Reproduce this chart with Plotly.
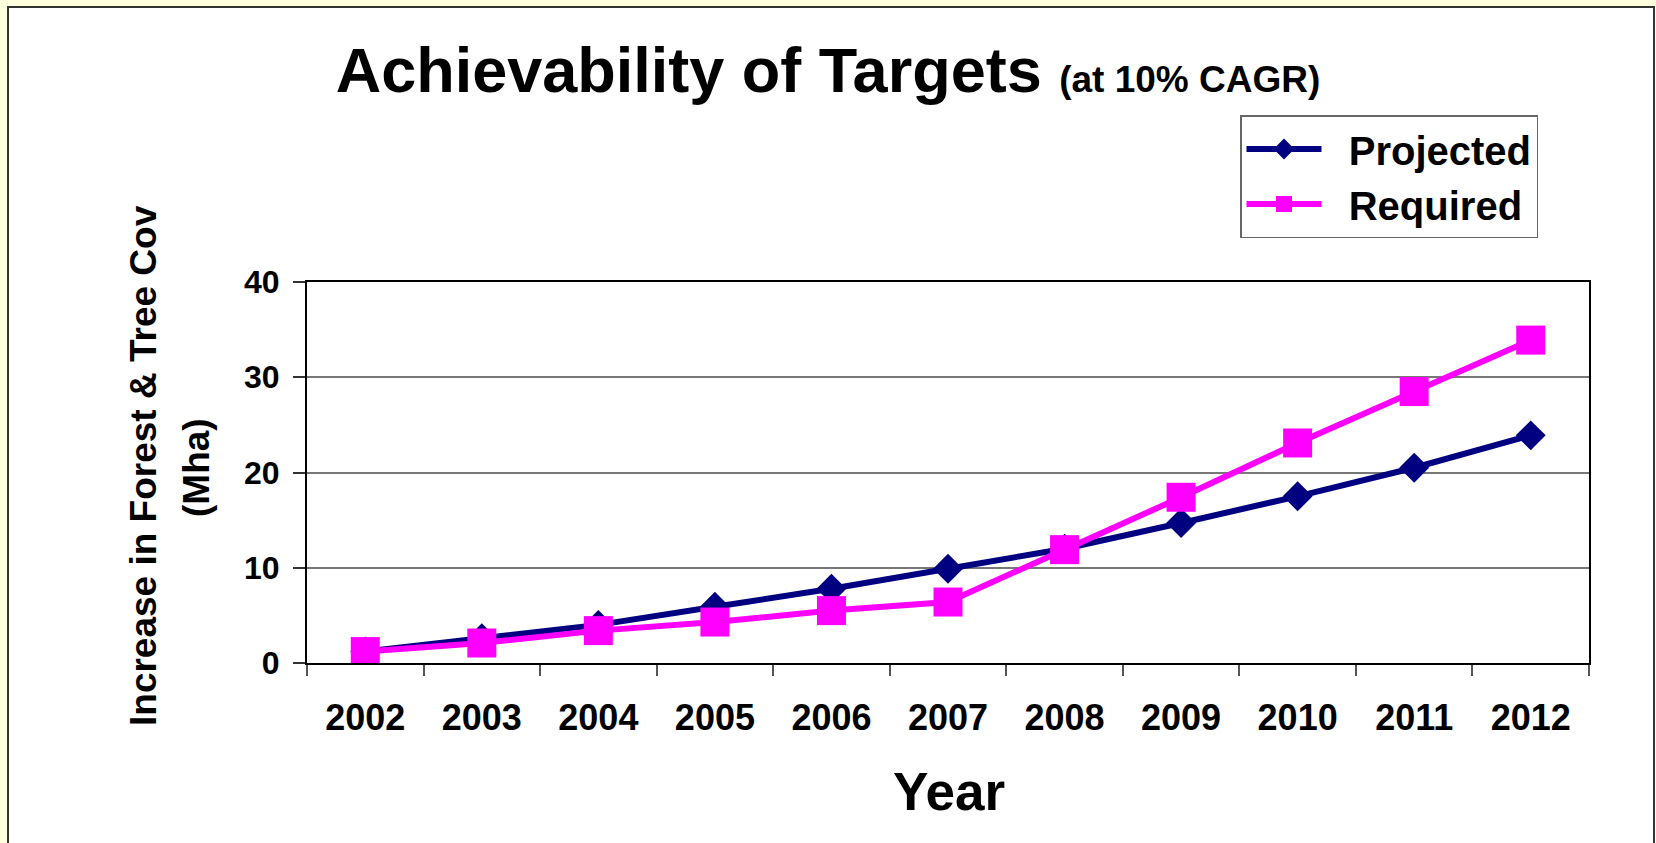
import plotly.graph_objects as go

years = ["2002", "2003", "2004", "2005", "2006", "2007", "2008", "2009", "2010", "2011", "2012"]
projected = [1.2, 2.6, 4.0, 5.9, 7.8, 9.9, 12.0, 14.7, 17.5, 20.5, 23.9]
required = [1.2, 2.1, 3.4, 4.3, 5.5, 6.4, 11.9, 17.4, 23.1, 28.5, 33.9]
y_ticks = [0, 10, 20, 30, 40]

FONT = "Liberation Sans, Arial, sans-serif"
W, H = 1656, 843
L, R, T, B = 307, 1589, 282, 663
pw, ph = R - L, B - T

def px(x):
    return (x - L) / pw

def py(y):
    return (B - y) / ph

NB = "\u00a0"

fig = go.Figure()
fig.add_trace(go.Scatter(
    x=years, y=projected, name=NB * 2 + "Projected", mode="lines+markers",
    line=dict(color="#000080", width=6),
    marker=dict(symbol="diamond", size=23, color="#000080"),
))
fig.add_trace(go.Scatter(
    x=years, y=required, name=NB * 2 + "Required", mode="lines+markers",
    line=dict(color="#FF00FF", width=6),
    marker=dict(symbol="square", size=29, color="#FF00FF"),
))

fig.update_layout(
    width=W, height=H,
    margin=dict(l=L, r=W - R, t=T, b=H - B, autoexpand=False),
    paper_bgcolor="#FFFFDD",
    plot_bgcolor="white",
    font=dict(family=FONT, color="black"),
    title=dict(
        text="Achievability of Targets <span style='font-size:37px'>(at 10% CAGR)</span>",
        font=dict(family=FONT, size=63, color="black", weight="bold"),
        x=0.5, xref="container", xanchor="center",
        y=1 - 70 / H, yref="container", yanchor="middle",
    ),
    showlegend=True,
    legend=dict(
        x=px(1240), y=py(115), xanchor="left", yanchor="top",
        bgcolor="white", bordercolor="#666666", borderwidth=1.5,
        font=dict(family=FONT, size=40, color="black", weight="bold"),
        itemwidth=75,
    ),
    xaxis=dict(
        type="category", range=[-0.5, 10.5],
        showgrid=False, showline=True, linecolor="black", linewidth=2, mirror=True,
        ticks="outside", tickson="boundaries", ticklen=11, tickcolor="#555555", tickwidth=1.5,
        tickfont=dict(family=FONT, size=36, color="black", weight="bold"),
        ticklabelstandoff=22,
        automargin=False,
    ),
    yaxis=dict(
        range=[0, 40], tickvals=y_ticks,
        showgrid=True, gridcolor="#777777", gridwidth=1.5, zeroline=False,
        showline=True, linecolor="black", linewidth=2, mirror=True,
        ticks="outside", ticklen=12, tickcolor="#333333", tickwidth=1.5,
        tickfont=dict(family=FONT, size=32, color="black", weight="bold"),
        ticklabelstandoff=7,
        automargin=False,
    ),
    shapes=[dict(
        type="rect", xref="paper", yref="paper", layer="below",
        x0=px(8), x1=px(1654), y0=py(7), y1=py(900),
        fillcolor="white", line=dict(color="#333333", width=2),
    )],
    annotations=[
        dict(text="Year", xref="paper", yref="paper", x=px(949), y=py(791),
             xanchor="center", yanchor="middle", showarrow=False,
             font=dict(family=FONT, size=53, color="black", weight="bold")),
        dict(text="Increase in Forest & Tree Cov", xref="paper", yref="paper",
             x=px(143), y=py(466), xanchor="center", yanchor="middle", textangle=-90,
             showarrow=False, font=dict(family=FONT, size=37, color="black", weight="bold")),
        dict(text="(Mha)", xref="paper", yref="paper",
             x=px(196), y=py(468), xanchor="center", yanchor="middle", textangle=-90,
             showarrow=False, font=dict(family=FONT, size=37, color="black", weight="bold")),
    ],
)

fig.write_html(
    "out.html",
    config={"displayModeBar": False},
    post_script="document.body.style.margin='0';document.body.style.background='#FFFFDD';",
)
